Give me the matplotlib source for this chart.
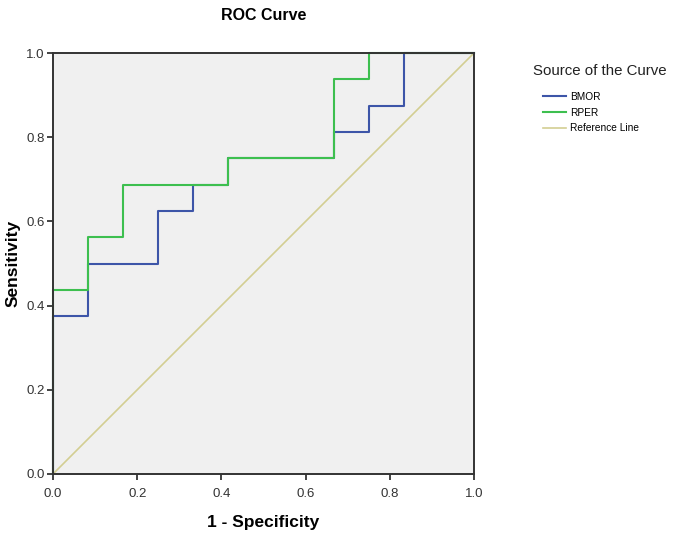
import matplotlib
matplotlib.use("Agg")
import matplotlib.pyplot as plt

plt.rcParams['font.family'] = ['Liberation Sans', 'DejaVu Sans']

# ROC step coordinates (1 - specificity, sensitivity)
bmor_fpr = [0, 0, 1/12, 1/12, 3/12, 3/12, 4/12, 4/12, 5/12, 5/12, 8/12, 8/12, 9/12, 9/12, 10/12, 10/12, 1]
bmor_tpr = [0, 0.375, 0.375, 0.5, 0.5, 0.625, 0.625, 0.6875, 0.6875, 0.75, 0.75, 0.8125, 0.8125, 0.875, 0.875, 1, 1]

rper_fpr = [0, 0, 1/12, 1/12, 2/12, 2/12, 5/12, 5/12, 8/12, 8/12, 9/12, 9/12, 1]
rper_tpr = [0, 0.4375, 0.4375, 0.5625, 0.5625, 0.6875, 0.6875, 0.75, 0.75, 0.9375, 0.9375, 1, 1]

ref_x = [0, 1]
ref_y = [0, 1]

ticks = [0.0, 0.2, 0.4, 0.6, 0.8, 1.0]

fig = plt.figure(figsize=(6.75, 5.36), dpi=100)
ax = fig.add_axes([53/675, 1 - 474/536, 421/675, 421/536])
ax.set_facecolor('#f0f0f0')

# lines sit under the spines, as in the SPSS output
ax.plot(bmor_fpr, bmor_tpr, color='#3d55a8', lw=1.5, label='BMOR', clip_on=False, zorder=2.1)
ax.plot(rper_fpr, rper_tpr, color='#3dbf4f', lw=1.5, label='RPER', clip_on=False, zorder=2.2)
ax.plot(ref_x, ref_y, color='#d3ce92', lw=1.2, label='Reference Line', zorder=2)

ax.set_xlim(0, 1)
ax.set_ylim(0, 1)
ax.set_xticks(ticks)
ax.set_yticks(ticks)
ax.set_xticklabels(['%.1f' % t for t in ticks])
ax.set_yticklabels(['%.1f' % t for t in ticks])
ax.tick_params(direction='out', length=4, width=1.2, color='#222222',
               labelsize=9.5, labelcolor='#333333')
ax.tick_params(axis='x', pad=6)
ax.tick_params(axis='y', pad=2)

for s in ax.spines.values():
    s.set_color('#333333')
    s.set_linewidth(1.4)
    s.set_zorder(3)

ax.set_title('ROC Curve', fontsize=11.5, fontweight='bold', pad=24)
ax.set_xlabel('1 - Specificity', fontsize=12.5, fontweight='bold', labelpad=11)
ax.set_ylabel('Sensitivity', fontsize=12.5, fontweight='bold', labelpad=4)

fig.text(533/675, 1 - 71/536, 'Source of the Curve', fontsize=10.8, va='center', color='#222222')
ax.legend(loc='upper left', bbox_to_anchor=(543/675, 1 - 92/536),
          bbox_transform=fig.transFigure, frameon=False, fontsize=7.3,
          handlelength=2.3, handletextpad=0.35, labelspacing=0.55,
          borderpad=0, borderaxespad=0)

fig.savefig('out.png', dpi=100)
